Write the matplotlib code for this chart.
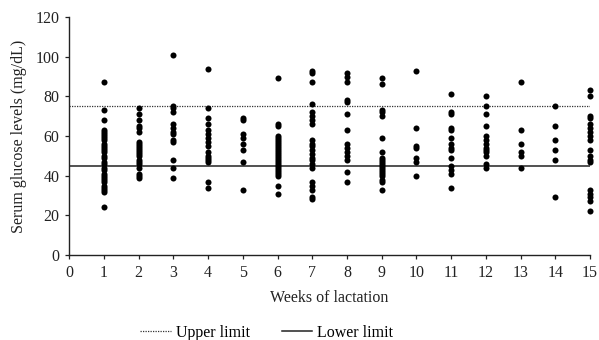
import matplotlib
matplotlib.use("Agg")
import matplotlib.pyplot as plt
from matplotlib.lines import Line2D

plt.rcParams['font.family'] = ['Liberation Serif', 'DejaVu Serif']

weeks = list(range(1, 16))
glucose = {
    1: [87, 73, 68, 63, 62, 61, 60, 59, 58, 56, 55, 54, 53, 52, 50, 49, 47, 46, 44, 43, 41, 40, 39, 38, 37, 35, 34, 33, 32, 24],
    2: [74, 71, 68, 65, 64, 62, 57, 56, 55, 54, 53, 52, 51, 50, 48, 47, 46, 44, 41, 40, 39],
    3: [101, 75, 74, 72, 66, 64, 62, 61, 58, 57, 48, 44, 39],
    4: [94, 74, 69, 66, 63, 61, 59, 57, 55, 52, 50, 49, 48, 47, 37, 34],
    5: [69, 68, 61, 59, 56, 53, 47, 33],
    6: [89, 66, 65, 60, 59, 58, 57, 56, 55, 54, 53, 52, 51, 50, 49, 48, 47, 46, 45, 44, 43, 42, 41, 40, 35, 31],
    7: [93, 92, 87, 76, 72, 70, 68, 66, 58, 56, 55, 53, 51, 49, 48, 46, 44, 37, 35, 33, 29, 28],
    8: [92, 90, 87, 78, 77, 71, 63, 56, 54, 52, 50, 48, 42, 37],
    9: [89, 86, 73, 72, 70, 59, 52, 49, 48, 47, 46, 45, 44, 43, 42, 41, 40, 38, 37, 33],
    10: [93, 64, 55, 54, 49, 47, 40],
    11: [81, 72, 71, 64, 63, 59, 56, 54, 53, 49, 45, 43, 41, 34],
    12: [80, 75, 71, 65, 60, 58, 56, 54, 53, 52, 50, 46, 44],
    13: [87, 63, 56, 52, 50, 44],
    14: [75, 65, 58, 53, 48, 29],
    15: [83, 80, 70, 69, 66, 64, 62, 60, 58, 53, 50, 48, 47, 33, 31, 29, 27, 22],
}
upper_limit = 75
lower_limit = 45
x_ticks = list(range(0, 16))
y_ticks = list(range(0, 121, 20))

fig = plt.figure(figsize=(5.99, 3.40), dpi=100)
ax = fig.add_axes([0.1155, 0.25, 0.8695, 0.70])

for w in weeks:
    ys = glucose[w]
    ax.scatter([w] * len(ys), ys, s=19, color='black', zorder=3, linewidths=0, clip_on=False)

ax.axhline(upper_limit, color='#333333', linestyle=(0, (1, 1)), linewidth=0.9)
ax.axhline(lower_limit, color='#222222', linestyle='-', linewidth=1.1)

ax.set_xlim(0, 15)
ax.set_ylim(0, 120)
ax.set_xticks(x_ticks)
ax.set_yticks(y_ticks)
ax.tick_params(labelsize=11.5, length=3, width=0.9, direction='out', colors='#222222', labelcolor='#222222', pad=4)
for s in ['top', 'right']:
    ax.spines[s].set_visible(False)
for s in ['left', 'bottom']:
    ax.spines[s].set_linewidth(1.0)
    ax.spines[s].set_color('#222222')
ax.set_xlabel('Weeks of lactation', fontsize=11.5, color='#222222', labelpad=7)
ax.set_ylabel('Serum glucose levels (mg/dL)', fontsize=11.5, color='#222222', labelpad=6)

handles = [Line2D([], [], color='#333333', linestyle=(0, (1, 1)), linewidth=0.9),
           Line2D([], [], color='#222222', linestyle='-', linewidth=1.1)]
fig.legend(handles, ['Upper limit', 'Lower limit'], loc='lower center', bbox_to_anchor=(0.445, -0.045),
           ncol=2, frameon=False, fontsize=11.5, handlelength=1.9, columnspacing=2.0, handletextpad=0.3)

fig.savefig('out.png', dpi=100)
